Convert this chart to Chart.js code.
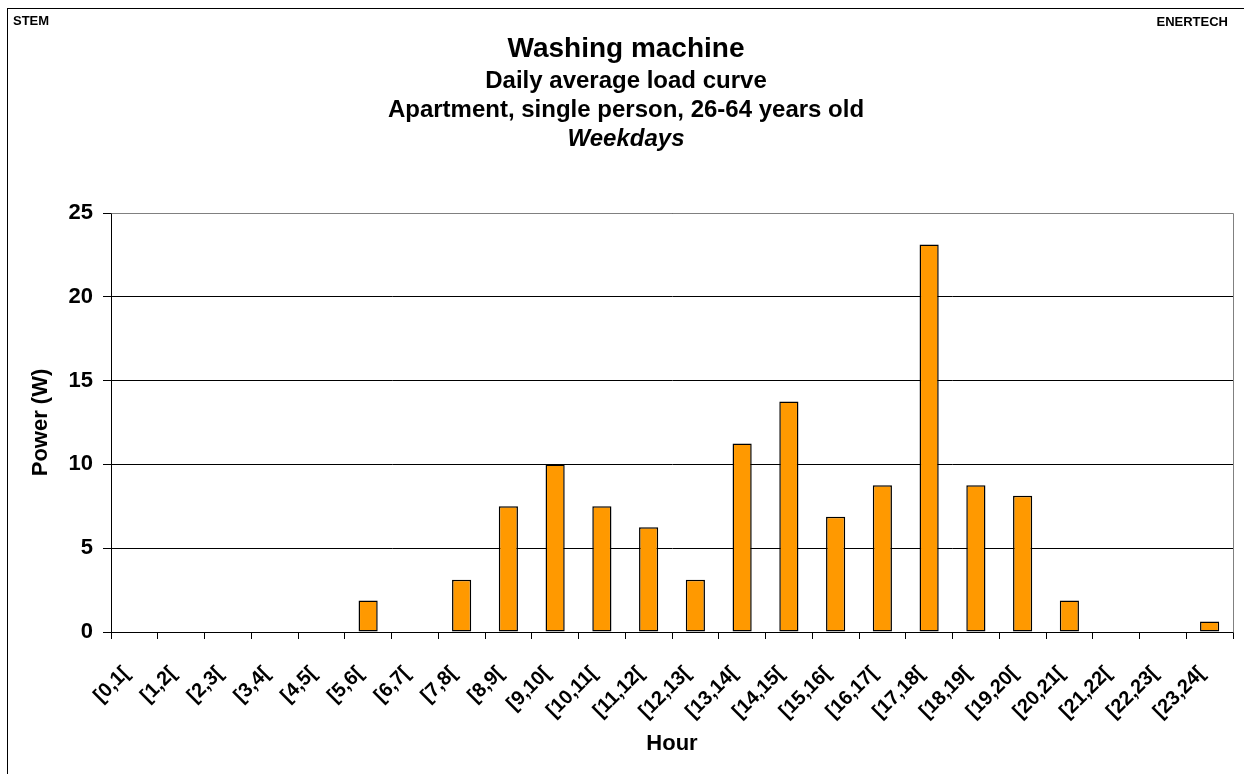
<!DOCTYPE html>
<html>
<head>
<meta charset="utf-8">
<script src="https://cdn.jsdelivr.net/npm/chart.js@4/dist/chart.umd.min.js"></script>
<style>
  html, body { margin: 0; padding: 0; background: #fff; overflow: hidden; }
  canvas { display: block; }
</style>
</head>
<body>
<canvas id="chart" width="1244" height="774"></canvas>
<script>
const FONT = '"Liberation Sans", Arial, Helvetica, sans-serif';

// Data
const hours = ['[0,1[', '[1,2[', '[2,3[', '[3,4[', '[4,5[', '[5,6[', '[6,7[', '[7,8[',
  '[8,9[', '[9,10[', '[10,11[', '[11,12[', '[12,13[', '[13,14[', '[14,15[', '[15,16[',
  '[16,17[', '[17,18[', '[18,19[', '[19,20[', '[20,21[', '[21,22[', '[22,23[', '[23,24['];
const power = [0, 0, 0, 0, 0, 1.875, 0, 3.125,
  7.5, 10, 7.5, 6.25, 3.125, 11.25, 13.75, 6.875,
  8.75, 23.125, 8.75, 8.125, 1.875, 0, 0, 0.625];
const yTicks = [0, 5, 10, 15, 20, 25];

const titleLines = ['Washing machine', 'Daily average load curve',
  'Apartment, single person, 26-64 years old', 'Weekdays'];
const cornerLeft = 'STEM';
const cornerRight = 'ENERTECH';

// page frame, header texts and grey plot border
const decorPlugin = {
  id: 'decor',
  beforeDraw(chart) {
    const ctx = chart.ctx;
    ctx.save();
    ctx.strokeStyle = '#000';
    ctx.lineWidth = 1;
    ctx.strokeRect(7.5, 8.5, 1300, 900);
    ctx.restore();
  },
  afterDatasetsDraw(chart) {
    const { ctx, chartArea: a } = chart;
    ctx.save();
    ctx.strokeStyle = '#808080';
    ctx.lineWidth = 1;
    ctx.beginPath();
    ctx.moveTo(Math.round(a.left) + 0.5, Math.round(a.top) + 0.5);
    ctx.lineTo(Math.round(a.right) + 0.5, Math.round(a.top) + 0.5);
    ctx.lineTo(Math.round(a.right) + 0.5, Math.round(a.bottom) + 0.5);
    ctx.stroke();
    ctx.restore();
  },
  afterDraw(chart) {
    const ctx = chart.ctx;
    ctx.save();
    ctx.fillStyle = '#000';
    ctx.textBaseline = 'alphabetic';
    ctx.font = 'bold 13px ' + FONT;
    ctx.textAlign = 'left';
    ctx.fillText(cornerLeft, 13, 25);
    ctx.textAlign = 'right';
    ctx.fillText(cornerRight, 1228, 26);

    ctx.textAlign = 'center';
    ctx.font = 'bold 28px ' + FONT;
    ctx.fillText(titleLines[0], 626, 57);
    ctx.font = 'bold 24px ' + FONT;
    ctx.fillText(titleLines[1], 626, 88);
    ctx.fillText(titleLines[2], 626, 117);
    ctx.font = 'italic bold 24px ' + FONT;
    ctx.fillText(titleLines[3], 626, 146);
    ctx.restore();
  }
};

new Chart(document.getElementById('chart').getContext('2d'), {
  type: 'bar',
  data: {
    labels: hours,
    datasets: [{
      data: power,
      backgroundColor: '#FF9900',
      borderColor: '#000',
      borderWidth: 1.5,
      borderSkipped: false,
      barPercentage: 0.41,
      categoryPercentage: 1
    }]
  },
  options: {
    responsive: false,
    animation: false,
    devicePixelRatio: 1,
    layout: { padding: { top: 213, right: 11, left: 0, bottom: 0 } },
    plugins: {
      legend: { display: false },
      tooltip: { enabled: false },
      title: { display: false }
    },
    scales: {
      x: {
        grid: {
          offset: true,
          drawOnChartArea: false,
          tickLength: 7,
          tickColor: '#000'
        },
        border: { color: '#000', width: 1 },
        ticks: {
          color: '#000',
          font: { family: FONT, size: 20, weight: 'bold' },
          maxRotation: 45,
          minRotation: 45,
          autoSkip: false,
          padding: 15,
          // trailing spaces pull the rotated label end a little left of the bar
          callback: (v, i) => hours[i] + '  '
        },
        title: {
          display: true,
          text: 'Hour',
          color: '#000',
          font: { family: FONT, size: 22, weight: 'bold' },
          padding: { top: 0, bottom: 17 }
        },
        afterFit(scale) { scale.height = 142; }
      },
      y: {
        min: 0,
        max: 25,
        afterBuildTicks(scale) { scale.ticks = yTicks.map(v => ({ value: v })); },
        grid: {
          color: '#000',
          lineWidth: 1,
          tickLength: 8,
          tickColor: '#000'
        },
        border: { color: '#000', width: 1 },
        ticks: {
          color: '#000',
          font: { family: FONT, size: 22, weight: 'bold' },
          padding: 10
        },
        title: {
          display: true,
          text: 'Power (W)',
          color: '#000',
          font: { family: FONT, size: 22, weight: 'bold' },
          padding: { top: 28, bottom: 0 }
        },
        afterFit(scale) { scale.width = 111; }
      }
    }
  },
  plugins: [decorPlugin]
});
</script>
</body>
</html>
